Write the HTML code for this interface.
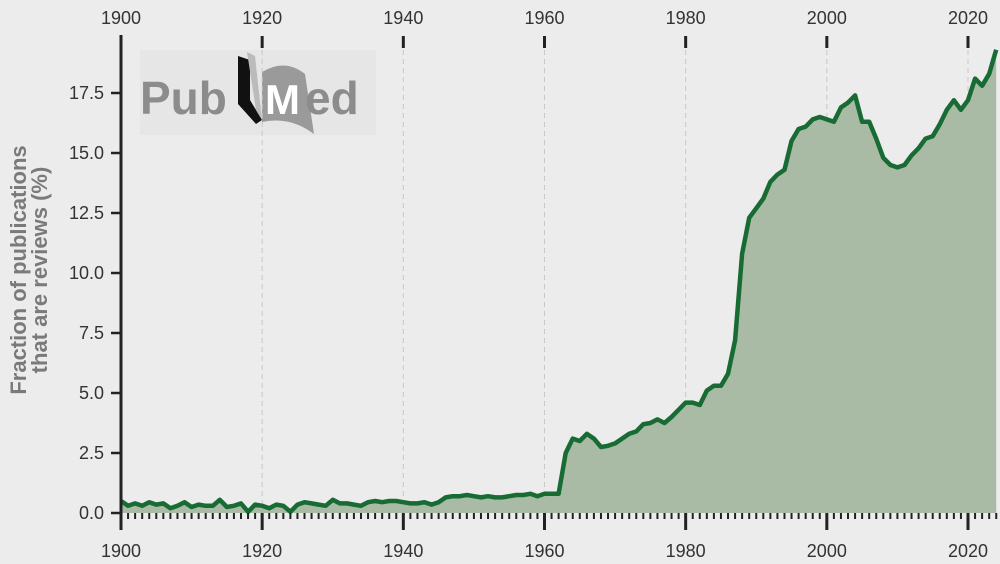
<!DOCTYPE html>
<html><head><meta charset="utf-8"><style>
body{margin:0;background:#ececec;}
svg{display:block;font-family:"Liberation Sans",sans-serif;}
</style></head><body>
<svg id="chart" width="1000" height="564">
<rect width="1000" height="564" fill="#ececec"/>
<g id="logo">
<rect x="140" y="50" width="236" height="85" fill="#e6e6e6"/>
<text x="140" y="114" font-size="46" font-weight="bold" fill="#8c8c8c">Pub</text>
<path d="M238 56 L250 60 L250 100 L262 120 L256 124 L238 104 Z" fill="#111"/>
<path d="M247 52 L255 56 L262 120 L256 110 Z" fill="#bbb"/>
<path d="M262 72 Q285 58 305 74 L314 134 Q290 116 262 122 Z" fill="#9a9a9a"/>
<text x="265" y="114" font-size="42" font-weight="bold" fill="#fff">M</text>
<text x="305" y="114" font-size="46" font-weight="bold" fill="#8c8c8c">ed</text>
</g>
<g id="grid"></g><g id="area"></g><g id="axes"></g>
<text transform="translate(26,270) rotate(-90)" text-anchor="middle" font-size="22" font-weight="bold" fill="#7a7a7a"><tspan x="0" dy="0">Fraction of publications</tspan><tspan x="0" dy="21">that are reviews (%)</tspan></text>
</svg>
<script>
const years=[];for(let y=1900;y<=2024;y++)years.push(y);
const early=[0.5,0.3,0.4,0.3,0.45,0.35,0.4,0.2,0.3,0.45,0.25,0.35,0.3,0.3,0.55,0.25,0.3,0.4,0.05,0.35,0.3,0.2,0.35,0.3,0.05,0.35,0.45,0.4,0.35,0.3,0.55,0.4,0.4,0.35,0.3,0.45,0.5,0.45,0.5,0.5,0.45,0.4,0.4,0.45,0.35,0.45,0.65,0.7,0.7,0.75,0.7,0.65,0.7,0.65,0.65,0.7,0.75,0.75,0.8,0.7,0.8,0.8,0.8];
const late=[2.5,3.1,3.0,3.3,3.1,2.75,2.8,2.9,3.1,3.3,3.4,3.7,3.75,3.9,3.75,4.0,4.3,4.6,4.6,4.5,5.1,5.3,5.3,5.8,7.2,10.8,12.3,12.7,13.1,13.8,14.1,14.3,15.5,16.0,16.1,16.4,16.5,16.4,16.3,16.9,17.1,17.4,16.3,16.3,15.6,14.8,14.5,14.4,14.5,14.9,15.2,15.6,15.7,16.2,16.8,17.2,16.8,17.2,18.1,17.8,18.3,19.3];
const values=early.concat(late);
const xTicks=[1900,1920,1940,1960,1980,2000,2020];
const yTicks=[0,2.5,5,7.5,10,12.5,15,17.5];
const X=y=>121+(y-1900)*(968-121)/120, Y=v=>513-24*v;
const NS="http://www.w3.org/2000/svg";
function mk(t,a,p){const e=document.createElementNS(NS,t);for(const k in a)e.setAttribute(k,a[k]);p.appendChild(e);return e;}
const grid=document.getElementById('grid'),area=document.getElementById('area'),axes=document.getElementById('axes');
xTicks.forEach(t=>{if(t===1900)return;const l=mk('line',{x1:X(t),x2:X(t),y1:50,y2:513,stroke:'#c8c8c8','stroke-dasharray':'5,4','stroke-width':1},grid);

});
const n=Math.min(values.length,years.length);
let pts=[];for(let i=0;i<n;i++)pts.push(X(years[i]).toFixed(1)+','+Y(values[i]).toFixed(1));
const poly=mk('polygon',{points:X(1900)+','+Y(0)+' '+pts.join(' ')+' '+X(years[n-1])+','+Y(0),fill:'#aabba5'},area);


const line=mk('polyline',{points:pts.join(' '),fill:'none',stroke:'#176b33','stroke-width':4.5,'stroke-linejoin':'round'},area);


const ya=mk('line',{x1:121,x2:121,y1:35,y2:518,stroke:'#222','stroke-width':3},axes);


yTicks.forEach(t=>{mk('line',{x1:111,x2:121,y1:Y(t),y2:Y(t),stroke:'#222','stroke-width':2.5},axes);
const tx=mk('text',{x:104,y:Y(t)+6,'text-anchor':'end','font-size':18,fill:'#333'},axes);tx.textContent=t.toFixed(1);

});
for(let y=1900;y<=2024;y++){mk('line',{x1:X(y),x2:X(y),y1:513,y2:519,stroke:'#222','stroke-width':2},axes);}
xTicks.forEach(t=>{mk('line',{x1:X(t),x2:X(t),y1:513,y2:530,stroke:'#222','stroke-width':3},axes);
mk('line',{x1:X(t),x2:X(t),y1:36,y2:48,stroke:'#222','stroke-width':3},axes);
const b=mk('text',{x:X(t),y:557,'text-anchor':'middle','font-size':18,fill:'#333'},axes);b.textContent=t;


const tp=mk('text',{x:X(t),y:24,'text-anchor':'middle','font-size':18,fill:'#333'},axes);tp.textContent=t;

});
</script>
</body></html>
